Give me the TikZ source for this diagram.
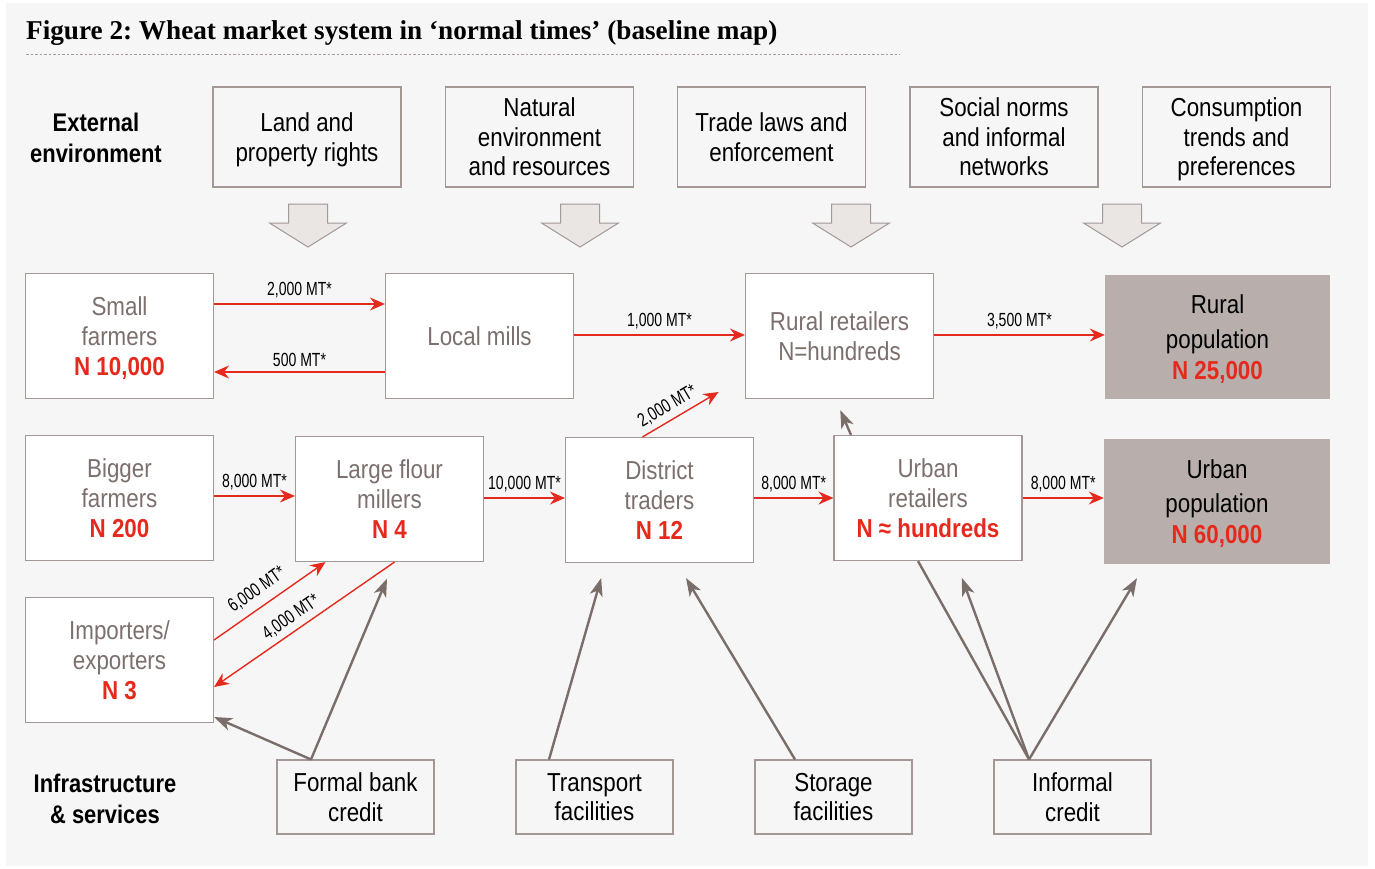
\documentclass[tikz,border=0pt]{standalone}
\usepackage{fontspec}
\setmainfont{Liberation Sans}[FakeStretch=0.86]
\newfontfamily\qtyfont{Liberation Sans}[FakeStretch=0.74]
\newfontfamily\headfont{Liberation Serif}
\usetikzlibrary{arrows.meta,positioning}
\frenchspacing

\definecolor{bgcol}{HTML}{F6F6F6}
\definecolor{boxline}{HTML}{A39896}
\definecolor{popfill}{HTML}{B8AFAC}
\definecolor{mktgray}{HTML}{7B706D}
\definecolor{flowred}{HTML}{E52A1D}
\definecolor{suppgray}{HTML}{7A6E6B}
\definecolor{blockfill}{HTML}{E9E6E4}

\tikzset{
  boxtext/.style={font=\fontsize{26}{29.5}\selectfont},
  envbox/.style={boxtext, draw=boxline, line width=1.1pt, minimum width=188pt,
    minimum height=100pt, inner sep=0pt, align=center, text depth=-4pt},
  mktbox/.style={font=\fontsize{26}{30}\selectfont, draw=boxline, fill=white,
    line width=1.1pt, text=mktgray, minimum width=188pt, minimum height=125pt,
    inner sep=0pt, align=center, text depth=-3pt},
  popbox/.style={font=\fontsize{26}{30.5}\selectfont, fill=popfill, minimum width=226pt,
    minimum height=125pt, inner sep=0pt, align=center, text depth=-3pt},
  infrabox/.style={boxtext, draw=boxline, line width=1.1pt, minimum width=157pt,
    minimum height=74pt, inner sep=0pt, align=center, text depth=-3pt},
  rowlabel/.style={font=\bfseries\fontsize{25.5}{31}\selectfont, align=center},
  flow/.style={draw=flowred, line width=1.4pt,
    -{Stealth[length=15pt,width=13pt,inset=5pt]}},
  supp/.style={draw=suppgray, line width=2.4pt,
    -{Stealth[length=18pt,width=13pt,inset=5pt]}},
  qty/.style={font=\qtyfont\fontsize{19}{21}\selectfont, text=black, inner sep=2pt},
  bigarrow/.style={draw=boxline, fill=blockfill, line width=1pt},
}
\newcommand\nred[1]{{\color{flowred}\bfseries #1}}

\begin{document}
\begin{tikzpicture}[x=1pt,y=-1pt]
  \useasboundingbox (0,0) rectangle (1375,869);
  \fill[bgcol] (6,3) rectangle (1368,866);

  % title
  \node[anchor=base west, inner sep=0pt, font=\headfont\bfseries\fontsize{27.2}{30}\selectfont]
    (title) at (26,40) {Figure 2: Wheat market system in ‘normal times’ (baseline map)};
  \draw[boxline, line width=0.8pt, dash pattern=on 2.5pt off 2pt] (26,54) -- (900,54);

  % external environment
  \node[rowlabel] (extenv) at (96,138) {External\\environment};
  \node[envbox] (land) at (307,137) {Land and\\property rights};
  \node[envbox] (nature) at (539.5,137) {Natural\\environment\\and resources};
  \node[envbox] (laws) at (771.5,137) {Trade laws and\\enforcement};
  \node[envbox] (norms) at (1004,137) {Social norms\\and informal\\networks};
  \node[envbox] (trends) at (1236.5,137) {Consumption\\trends and\\preferences};

  \foreach \x in {308,580,851,1122}
    \draw[bigarrow] (\x-19.5,204) -- (\x+19.5,204) -- (\x+19.5,223) -- (\x+38.5,223)
      -- (\x,247) -- (\x-38.5,223) -- (\x-19.5,223) -- cycle;

  % market chain
  \node[mktbox] (small) at (119.5,336) {Small\\farmers\\\nred{N 10,000}};
  \node[mktbox] (local) at (479.5,336) {Local mills};
  \node[mktbox] (rurret) at (839.5,336) {Rural retailers\\N=hundreds};
  \node[popbox, minimum width=225pt, minimum height=124pt] (rurpop) at (1217.5,337)
    {Rural\\[5pt]population\\\nred{N 25,000}};

  \node[mktbox] (bigger) at (119.5,498) {Bigger\\farmers\\\nred{N 200}};
  \node[mktbox] (large) at (389.5,499) {Large flour\\millers\\\nred{N 4}};
  \node[mktbox] (district) at (659.5,500) {District\\traders\\\nred{N 12}};
  \node[mktbox] (urbret) at (928,498) {Urban\\retailers\\\nred{N ≈ hundreds}};
  \node[popbox] (urbpop) at (1217,501.5) {Urban\\[4pt]population\\\nred{N 60,000}};

  \node[mktbox] (imp) at (119.5,660) {Importers/\\exporters\\\nred{N 3}};

  % infrastructure and services
  \node[rowlabel] (infra) at (105,799) {Infrastructure\\\& services};
  \node[infrabox] (formal) at (355.5,797) {Formal bank\\credit};
  \node[infrabox] (trans) at (594.5,797) {Transport\\facilities};
  \node[infrabox] (store) at (833.5,797) {Storage\\facilities};
  \node[infrabox] (informal) at (1072.5,797) {Informal\\credit};

  % flows
  \draw[flow] ([yshift=32pt]small.east) -- node[qty, above=3pt] {2,000 MT*} ([yshift=32pt]local.west);
  \draw[flow] ([yshift=-36pt]local.west) -- node[qty, above=3pt] {500 MT*} ([yshift=-36pt]small.east);
  \draw[flow] ([yshift=1pt]local.east) -- node[qty, above=3pt] {1,000 MT*} ([yshift=1pt]local.east -| rurret.west);
  \draw[flow] ([yshift=1pt]rurret.east) -- node[qty, above=3pt] {3,500 MT*} ([yshift=1pt]rurret.east -| rurpop.west);
  \draw[flow] ([yshift=2pt]bigger.east) -- node[qty, above=3pt] {8,000 MT*} ([yshift=2pt]bigger.east -| large.west);
  \draw[flow] ([yshift=1pt]large.east) -- node[qty, above=3pt] {10,000 MT*} ([yshift=1pt]large.east -| district.west);
  \draw[flow] ([yshift=2pt]district.east) -- node[qty, above=3pt] {8,000 MT*} ([yshift=2pt]district.east -| urbret.west);
  \draw[flow] (urbret.east) -- node[qty, above=3pt] {8,000 MT*} (urbret.east -| urbpop.west);
  \draw[flow] ([xshift=-17pt]district.north) -- node[qty, sloped, above=3pt, pos=0.42] {2,000 MT*}
    ([xshift=-121pt, yshift=7pt]rurret.south);
  \draw[flow] ([yshift=20pt]imp.east) -- node[qty, sloped, above=6pt, pos=0.47] {6,000 MT*}
    ([xshift=-64pt]large.south);
  \draw[flow] ([xshift=5pt]large.south) -- node[qty, sloped, above=3pt, pos=0.53] {4,000 MT*}
    ([yshift=-27pt]imp.east);

  % support
  \draw[supp, shorten >=12pt] ([xshift=-77pt]urbret.north) -- ([xshift=-4pt]rurret.south);
  \draw[supp] ([xshift=-44.5pt]formal.north) -- ([yshift=-57pt]imp.east);
  \draw[supp, shorten >=18pt] ([xshift=-44.5pt]formal.north) -- ([xshift=4.5pt]large.south);
  \draw[supp, shorten >=15.6pt] ([xshift=-45.5pt]trans.north) -- ([xshift=-54pt]district.south);
  \draw[supp, shorten >=17.5pt] ([xshift=-38.5pt]store.north) -- ([xshift=17.5pt]district.south);
  \draw[supp, -] ([xshift=-43.5pt]informal.north) -- ([xshift=-10pt]urbret.south);
  \draw[supp, shorten >=18pt] ([xshift=-43.5pt]informal.north) -- ([xshift=27.7pt]urbret.south);
  \draw[supp, shorten >=16.3pt] ([xshift=-43.5pt]informal.north) -- ([xshift=-71.7pt]urbpop.south);
\end{tikzpicture}
\end{document}
